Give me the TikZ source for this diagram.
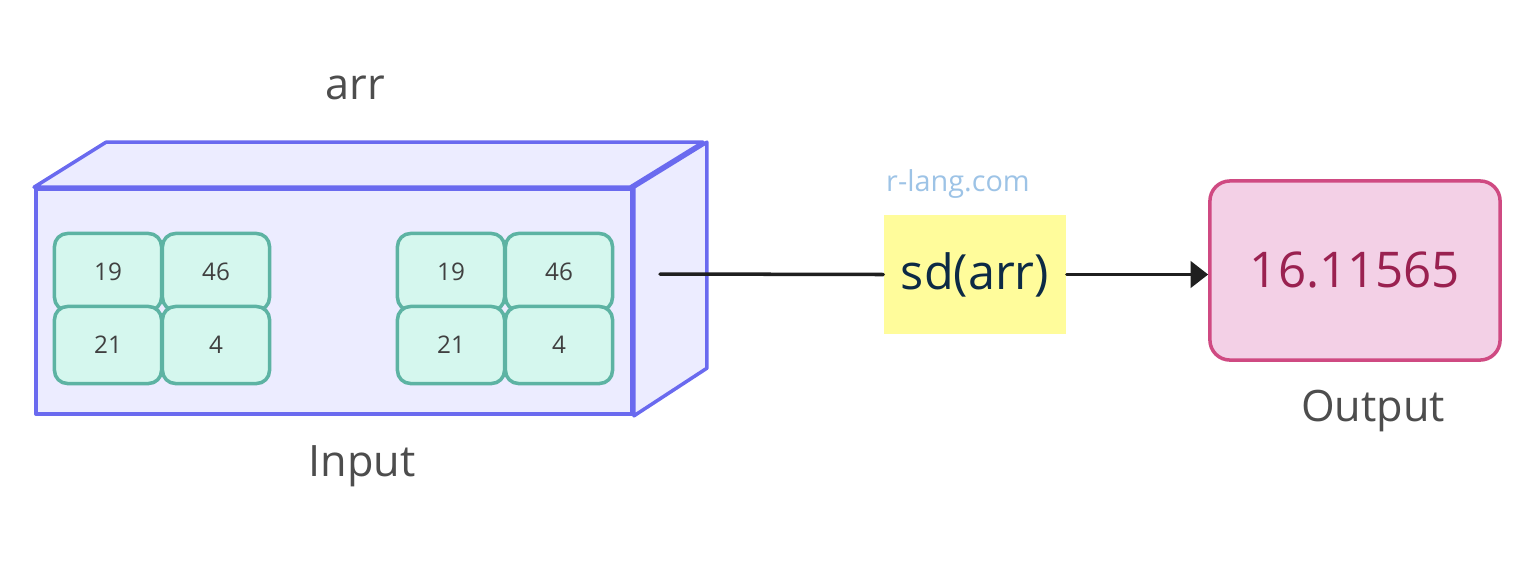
\documentclass[tikz,border=0pt]{standalone}
\usepackage{fontspec}
\setmainfont{Open Sans}
\usepackage{tikz}
\usetikzlibrary{arrows.meta,positioning}

\definecolor{cubefill}{RGB}{236,236,255}
\definecolor{cubeline}{RGB}{106,106,239}
\definecolor{cellfill}{RGB}{213,247,238}
\definecolor{cellline}{RGB}{93,179,163}
\definecolor{fnfill}{RGB}{255,252,155}
\definecolor{fntext}{RGB}{12,42,69}
\definecolor{outfill}{RGB}{243,208,230}
\definecolor{outline}{RGB}{207,74,130}
\definecolor{outtext}{RGB}{154,33,80}
\definecolor{labeltext}{RGB}{77,77,77}
\definecolor{urltext}{RGB}{157,195,230}

\begin{document}
\begin{tikzpicture}[x=0.01cm, y=-0.01cm, line cap=round, line join=round,
  face/.style={draw=cubeline, fill=cubefill, line width=1pt},
  cell/.style={draw=cellline, fill=cellfill, line width=1pt, rounded corners=0.13cm,
    minimum width=1.07cm, minimum height=0.77cm, text=black!75,
    font=\fontsize{6.9}{8}\selectfont},
  caption/.style={text=labeltext, font=\fontsize{12.3}{14}\selectfont},
  link/.style={draw=black!88, line width=1pt}]
\useasboundingbox (0,0) rectangle (1536,560);
% cube
\node[face, minimum width=5.96cm, minimum height=2.25cm, inner sep=0pt] (front) at (334,301.5) {};
\draw[face] (front.north west) -- ++(72,-45) -- ++(597,0) -- ++(-73,45) -- cycle;
\draw[face] (front.north east) -- ++(73,-45) -- ++(0,226) -- (front.south east) -- cycle;
% values
\foreach \g/\gx in {l/108, r/451} {
  \node[cell] (\g a) at (\gx,272) {19};
  \node[cell] (\g b) at (\gx+108,272) {46};
  \node[cell] (\g c) at (\gx,345) {21};
  \node[cell] (\g d) at (\gx+108,345) {4};
}
\node[caption] (arr) at (355,88) {arr};
\node[caption] (input) at (362,466) {Input};
\coordinate (src) at (660,274);
% function
\node[fill=fnfill, minimum width=1.82cm, minimum height=1.19cm, text=fntext,
  font=\fontsize{13.8}{16}\selectfont] (fn) at (975,274.5) {sd(arr)};
\node[text=urltext, font=\fontsize{8.2}{10}\selectfont] (url) at (958,184) {r-lang.com};
% result
\node[draw=outline, fill=outfill, line width=1pt, rounded corners=0.2cm,
  minimum width=2.9cm, minimum height=1.79cm, text=outtext,
  font=\fontsize{14}{16}\selectfont] (out) at (1355,270.5) {16.11565};
\node[caption] (output) at (1373,411) {Output};
\draw[link] (src) -- (fn.west);
\draw[link, -{Triangle[length=5pt, width=7.5pt]}] (fn.east) -- (fn.east -| out.west);
\end{tikzpicture}
\end{document}
